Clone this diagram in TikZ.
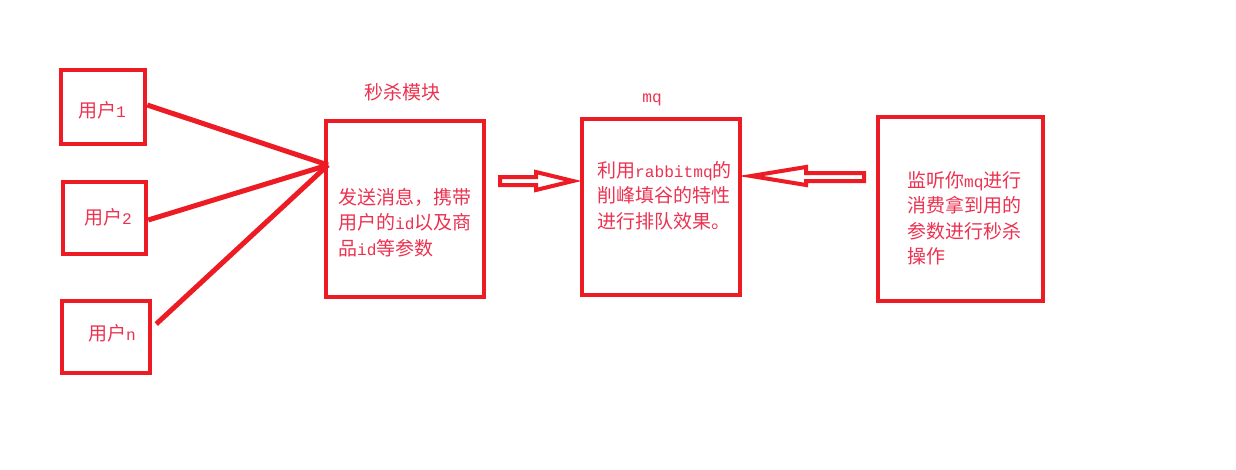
\documentclass[tikz,border=0pt]{standalone}
\usepackage{fontspec}
\newfontfamily\cjk{Noto Sans CJK SC}
\newfontfamily\lat[Scale=0.85]{Liberation Mono}
\newcommand{\lt}[1]{{\lat #1}}
\definecolor{boxred}{RGB}{237,28,36}
\definecolor{txtred}{RGB}{236,50,80}
\begin{document}
\begin{tikzpicture}[x=1pt,y=-1pt,
  box/.style={draw=boxred, line width=4.5pt, inner sep=0pt},
  conn/.style={draw=boxred, line width=5pt},
  blockarrow/.style={draw=boxred, line width=4pt, line join=miter},
  txt/.style={text=txtred, font=\cjk\fontsize{19}{25.5}\selectfont, inner sep=0pt, align=left, anchor=base west},
  lbl/.style={text=txtred, font=\cjk\fontsize{19}{25.5}\selectfont, inner sep=0pt}]
\useasboundingbox (0,0) rectangle (1236,469);
\fill[white] (0,0) rectangle (1236,469);

% user boxes
\node[box, minimum width=84pt, minimum height=74pt] (u1) at (103,107) {};
\node[box, minimum width=83pt, minimum height=72pt] (u2) at (104.5,218) {};
\node[box, minimum width=88pt, minimum height=72pt] (un) at (106,337) {};
\node[lbl] (t1) at (102,110) {用户\lt{1}};
\node[lbl] (t2) at (108,217) {用户\lt{2}};
\node[lbl] (tn) at (112,333) {用户\lt{n}};

% seckill module
\node[box, minimum width=158pt, minimum height=176pt] (sk) at (405,209) {};
\node[lbl] (sktitle) at (402,92) {秒杀模块};
\node[txt] (sktext) at (338,255) {发送消息，携带\\用户的\lt{id}以及商\\品\lt{id}等参数};

% mq
\node[box, minimum width=158pt, minimum height=176pt] (mq) at (661,207) {};
\node[lbl, anchor=base] (mqtitle) at (652,102) {\lt{mq}};
\node[txt] (mqtext) at (597,228) {利用\lt{rabbitmq}的\\削峰填谷的特性\\进行排队效果。};

% consumer
\node[box, minimum width=165pt, minimum height=184pt] (cons) at (960.5,209) {};
\node[txt] (constext) at (907,263.5) {监听你\lt{mq}进行\\消费拿到用的\\参数进行秒杀\\操作};

% connectors
\coordinate (hub) at (328,165);
\draw[conn] ([yshift=2pt]u1.east) -- (hub);
\draw[conn] ([yshift=-2pt]u2.east) -- (hub);
\draw[conn] ([xshift=4pt,yshift=13pt]un.east) -- (hub);

% hollow block arrows
\draw[blockarrow] (500,177) -- (536,177) -- (536,172) -- (573,181) -- (536,190) -- (536,185) -- (500,185) -- cycle;
\draw[blockarrow] (751,176) -- (806,167) -- (806,173) -- (864,173) -- (864,181) -- (806,181) -- (806,185) -- cycle;
\end{tikzpicture}
\end{document}
